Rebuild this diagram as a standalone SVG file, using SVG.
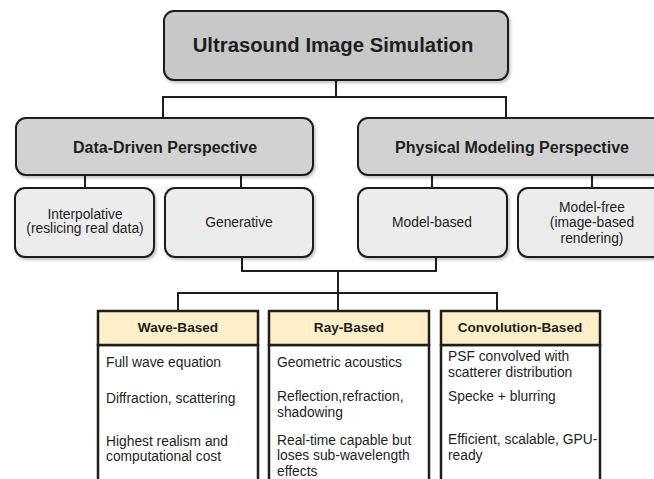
<svg xmlns="http://www.w3.org/2000/svg" width="654" height="479" viewBox="0 0 654 479">
<defs>
<filter id="sh" x="-10%" y="-10%" width="130%" height="140%">
<feDropShadow dx="1.5" dy="2" stdDeviation="1.5" flood-color="#000" flood-opacity="0.25"/>
</filter>
</defs>
<style>
text{font-family:"Liberation Sans",Arial,sans-serif;fill:#1e1e1e}
.rb{stroke:#1e1e1e;stroke-width:2;filter:url(#sh)}
.top{fill:#c8c8c8}
.mid{fill:#d2d2d2}
.sub{fill:#ececec}
.hdr{fill:#fdefc7;stroke:#1e1e1e;stroke-width:2.5}
.bod{fill:#fff;stroke:#1e1e1e;stroke-width:2.5}
.t1{font-size:20.3px;font-weight:bold;text-anchor:middle}
.t2{font-size:16px;font-weight:bold;text-anchor:middle}
.t3{font-size:13.8px;text-anchor:middle}
.th{font-size:13.6px;font-weight:bold;text-anchor:middle}
.tb{font-size:13.8px}
.c{fill:none;stroke:#1e1e1e;stroke-width:2}
</style>
<rect width="654" height="479" fill="#fff"/>
<g id="connectors">
<path class="c" d="M336,80V97M163,97H506M163,96V118M506,96V118"/>
<path class="c" d="M85,175V188M241,175V188M432,175V188M592,175V188"/>
<path class="c" d="M242,257V271H436V257M338,271V311"/>
<path class="c" d="M178,293H497M178,292V311M497,292V311"/>
</g>
<g id="root">
<rect class="rb top" x="164" y="11" width="344" height="69" rx="10"/>
<text class="t1" x="333" y="52">Ultrasound Image Simulation</text>
</g>
<g id="data-driven">
<rect class="rb mid" x="16" y="118" width="297" height="57" rx="10"/>
<text class="t2" x="165" y="153">Data-Driven Perspective</text>
</g>
<g id="physical">
<rect class="rb mid" x="358" y="118" width="310" height="57" rx="10"/>
<text class="t2" x="512" y="153">Physical Modeling Perspective</text>
</g>
<g id="interpolative">
<rect class="rb sub" x="15" y="188" width="139" height="69" rx="10"/>
<text class="t3" x="85" y="219">Interpolative</text>
<text class="t3" x="85" y="233">(reslicing real data)</text>
</g>
<g id="generative">
<rect class="rb sub" x="165" y="188" width="148" height="69" rx="10"/>
<text class="t3" x="239" y="227">Generative</text>
</g>
<g id="model-based">
<rect class="rb sub" x="358" y="188" width="149" height="69" rx="10"/>
<text class="t3" x="432" y="227">Model-based</text>
</g>
<g id="model-free">
<rect class="rb sub" x="518" y="188" width="150" height="69" rx="10"/>
<text class="t3" x="592" y="212">Model-free</text>
<text class="t3" x="592" y="227">(image-based</text>
<text class="t3" x="592" y="243">rendering)</text>
</g>
<g id="wave">
<rect class="bod" x="98" y="345" width="160" height="150"/>
<rect class="hdr" x="98" y="311" width="160" height="34"/>
<text class="th" x="178" y="332">Wave-Based</text>
<text class="tb" x="106" y="367">Full wave equation</text>
<text class="tb" x="106" y="403">Diffraction, scattering</text>
<text class="tb" x="106" y="446">Highest realism and</text>
<text class="tb" x="106" y="461">computational cost</text>
</g>
<g id="ray">
<rect class="bod" x="269" y="345" width="160" height="150"/>
<rect class="hdr" x="269" y="311" width="160" height="34"/>
<text class="th" x="349" y="332">Ray-Based</text>
<text class="tb" x="277" y="367">Geometric acoustics</text>
<text class="tb" x="277" y="401">Reflection,refraction,</text>
<text class="tb" x="277" y="417">shadowing</text>
<text class="tb" x="277" y="445">Real-time capable but</text>
<text class="tb" x="277" y="460">loses sub-wavelength</text>
<text class="tb" x="277" y="476">effects</text>
</g>
<g id="convolution">
<rect class="bod" x="441" y="345" width="159" height="150"/>
<rect class="hdr" x="441" y="311" width="159" height="34"/>
<text class="th" x="520" y="332">Convolution-Based</text>
<text class="tb" x="448" y="361">PSF convolved with</text>
<text class="tb" x="448" y="377">scatterer distribution</text>
<text class="tb" x="448" y="401">Specke + blurring</text>
<text class="tb" x="448" y="444">Efficient, scalable, GPU-</text>
<text class="tb" x="448" y="460">ready</text>
</g>
</svg>
